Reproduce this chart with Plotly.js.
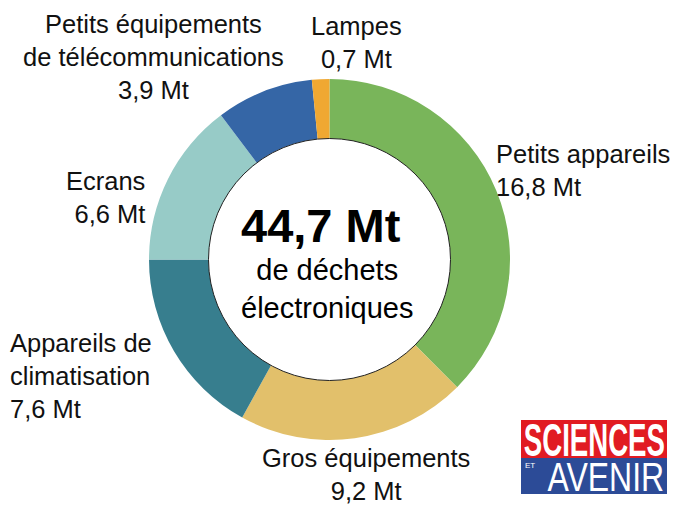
<!DOCTYPE html>
<html><head><meta charset="utf-8">
<script src="https://cdn.plot.ly/plotly-3.0.1.min.js"></script>
<style>html,body{margin:0;padding:0;background:#fff}#chart{width:684px;height:519px}</style>
</head><body><div id="chart"></div>
<script>
const categories = ["Petits appareils","Gros équipements","Appareils de climatisation","Ecrans","Petits équipements de télécommunications","Lampes"];
const values = [16.8, 9.2, 7.6, 6.6, 3.9, 0.7];
const colors = ["#79b55a","#e2c06b","#377e8e","#97cbc7","#3566a6","#f0a832"];
const totalText = "44,7 Mt";
const labelTexts = [
  "Petits appareils<br>16,8 Mt",
  "Gros équipements<br>9,2 Mt",
  "Appareils de<br>climatisation<br>7,6 Mt",
  "Ecrans<br>6,6 Mt",
  "Petits équipements<br>de télécommunications<br>3,9 Mt",
  "Lampes<br>0,7 Mt"
];

const W = 684, H = 519;
const cx = 329.5, cy = 259.5, R = 180.5, r = 121;
const px = x => x / W, py = y => 1 - y / H;
const F = "Liberation Sans, Arial, sans-serif";

const trace = {
  type: "pie", values: values, labels: categories, sort: false,
  direction: "clockwise", rotation: 0, hole: r / R,
  marker: {colors: colors, line: {width: 0}},
  textinfo: "none", hoverinfo: "label+value", showlegend: false,
  domain: {x: [px(cx - R), px(cx + R)], y: [py(cy + R), py(cy - R)]}
};

const lab = (i, x, y, xanchor, align) => ({
  text: labelTexts[i], x: px(x), y: py(y), xref: "paper", yref: "paper",
  xanchor: xanchor, yanchor: "middle", align: align, showarrow: false,
  font: {family: F, size: 25.5, color: "#111"}
});

const annotations = [
  lab(0, 494, 170, "left", "left"),
  lab(1, 366, 474, "center", "center"),
  lab(2, 8, 376, "left", "left"),
  lab(3, 147, 197, "right", "right"),
  lab(4, 153, 57, "center", "center"),
  lab(5, 356, 43, "center", "center"),
  {text: "<b>" + totalText + "</b>", x: px(321), y: py(226), xref: "paper", yref: "paper",
   showarrow: false, xanchor: "center", yanchor: "middle", font: {family: F, size: 47, color: "#000"}},
  {text: "de déchets<br>électroniques", x: px(327), y: py(289), xref: "paper", yref: "paper",
   showarrow: false, xanchor: "center", yanchor: "middle", align: "center",
   font: {family: F, size: 29, color: "#000"}},
  {text: "<b>SCIENCES</b>", x: px(594), y: py(440), xref: "paper", yref: "paper",
   showarrow: false, xanchor: "center", yanchor: "middle",
   font: {family: F, size: 46, color: "#fff"}},
  {text: "AVENIR", x: px(606), y: py(477), xref: "paper", yref: "paper",
   showarrow: false, xanchor: "center", yanchor: "middle",
   font: {family: F, size: 41, color: "#fff"}},
  {text: "ET", x: px(530), y: py(465), xref: "paper", yref: "paper",
   showarrow: false, xanchor: "center", yanchor: "middle",
   font: {family: F, size: 8, color: "#fff"}}
];

const shapes = [
  {type: "circle", xref: "paper", yref: "paper", x0: px(cx - r), x1: px(cx + r), y0: py(cy + r), y1: py(cy - r),
   line: {color: "#222", width: 1}, fillcolor: "rgba(0,0,0,0)"},
  {type: "rect", xref: "paper", yref: "paper", x0: px(521), x1: px(667), y0: py(458), y1: py(420),
   line: {width: 0}, fillcolor: "#e11b22", layer: "below"},
  {type: "rect", xref: "paper", yref: "paper", x0: px(521), x1: px(667), y0: py(494), y1: py(458),
   line: {width: 0}, fillcolor: "#2c4b97", layer: "below"}
];

Plotly.newPlot("chart", [trace], {
  width: W, height: H, margin: {l: 0, r: 0, t: 0, b: 0},
  paper_bgcolor: "#fff", plot_bgcolor: "#fff",
  annotations: annotations, shapes: shapes
}, {displayModeBar: false, staticPlot: true}).then(function () {
  // condense the logo lettering horizontally, as in the reference logo
  const squeeze = {8: 0.6, 9: 0.78};
  document.querySelectorAll("#chart .annotation").forEach(function (g) {
    const idx = +g.getAttribute("data-index");
    if (!(idx in squeeze)) return;
    const a = annotations[idx];
    const x = a.x * W, y = (1 - a.y) * H, s = squeeze[idx];
    g.setAttribute("transform", "translate(" + x + "," + y + ") scale(" + s + ",1) translate(" + (-x) + "," + (-y) + ")");
  });
});
</script></body></html>
